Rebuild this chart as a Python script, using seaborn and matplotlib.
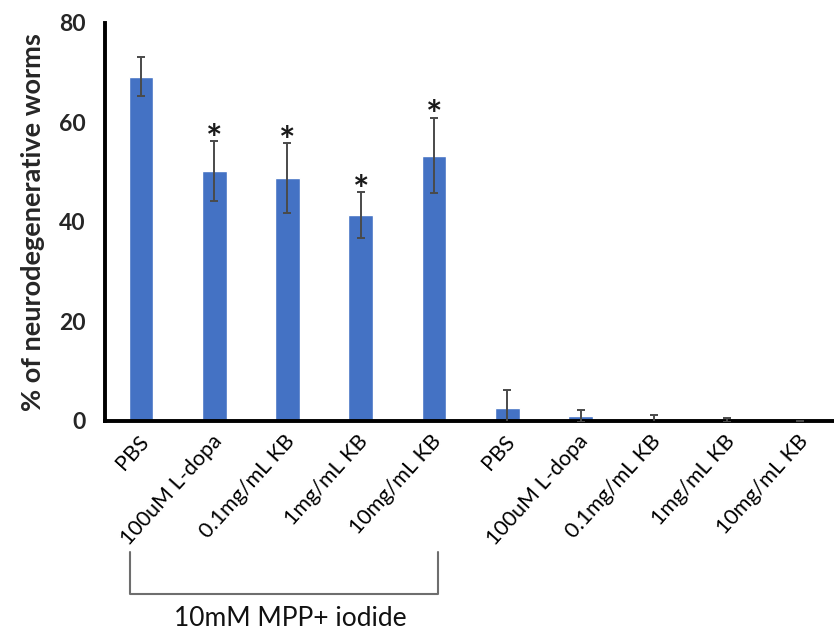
import matplotlib
matplotlib.use("Agg")
import matplotlib.pyplot as plt
import matplotlib.transforms as mtransforms
import seaborn as sns
import pandas as pd

conditions = ["PBS", "100uM L-dopa", "0.1mg/mL KB", "1mg/mL KB", "10mg/mL KB",
              "PBS", "100uM L-dopa", "0.1mg/mL KB", "1mg/mL KB", "10mg/mL KB"]
groups = ["MPP"] * 5 + ["Control"] * 5
values = [69.2, 50.2, 48.8, 41.3, 53.3, 2.6, 0.9, 0.3, 0.1, 0.0]
errors = [4.0, 6.0, 7.0, 4.6, 7.6, 3.7, 1.2, 0.8, 0.4, 0.0]
significant = [False, True, True, True, True, False, False, False, False, False]
ylabel = "% of neurodegenerative worms"
bracket_label = "10mM MPP+ iodide"
yticks = [0, 20, 40, 60, 80]

sns.set_theme(style="white")
plt.rcParams["font.family"] = ["Lato", "DejaVu Sans"]

df = pd.DataFrame({
    "key": [f"{g}_{i}" for i, g in enumerate(groups)],
    "label": conditions,
    "value": values,
    "err": errors,
})

fig = plt.figure(figsize=(8.34, 6.32), dpi=100)
ax = fig.add_axes([0.126, 0.334, 0.874, 0.63])

sns.barplot(data=df, x="key", y="value", order=df["key"], color="#4472C4",
            saturation=1, width=0.34, errorbar=None, ax=ax)
xs = list(range(len(df)))
ax.errorbar(xs, df["value"], yerr=df["err"], fmt="none", ecolor="#4a4a4a",
            elinewidth=1.4, capsize=3, capthick=1.4, zorder=3)
for x, v, e, s in zip(xs, values, errors, significant):
    if s:
        ax.text(x, v + e - 3.3, "*", ha="center", va="bottom", fontsize=28,
                fontweight="bold", color="#1a1a1a")

ax.set_xlim(-0.49, 9.46)
ax.set_ylim(0, 80)
ax.set_yticks(yticks)
ax.set_yticklabels([str(t) for t in yticks], fontsize=16.5, fontweight="bold")
ax.set_xticks(xs)
ax.set_xticklabels([""] * len(xs))
# rotated category labels anchored at each tick
lbl_tf = mtransforms.blended_transform_factory(ax.transData, ax.transAxes) + \
    mtransforms.ScaledTranslation(4 / 100, -17 / 100, fig.dpi_scale_trans)
for x, lab in zip(xs, df["label"]):
    ax.text(x, 0, lab, transform=lbl_tf, rotation=48, ha="right", va="center",
            rotation_mode="anchor", fontsize=15.5, color="#000000", clip_on=False)
ax.tick_params(axis="both", length=0)
ax.tick_params(axis="y", pad=14)
ax.set_xlabel("")
ax.set_ylabel(ylabel, fontsize=19.5, fontweight="bold", labelpad=10)
for side in ["top", "right"]:
    ax.spines[side].set_visible(False)
for side in ["left", "bottom"]:
    ax.spines[side].set_color("black")
    ax.spines[side].set_linewidth(2.8)

# bracket under first group (figure pixel coordinates)
W, H = 834, 632
bx0, bx1, by_top, by_bot = 130 / W, 438 / W, 1 - 552 / H, 1 - 594 / H
fig.add_artist(plt.Line2D([bx0, bx0, bx1, bx1], [by_top, by_bot, by_bot, by_top],
                          transform=fig.transFigure, color="#6e6e6e", lw=1.5))
fig.text(290 / W, 1 - 619 / H, bracket_label, ha="center", va="center",
         fontsize=19, color="#111111")

fig.savefig("out.png", dpi=100, facecolor="white")
